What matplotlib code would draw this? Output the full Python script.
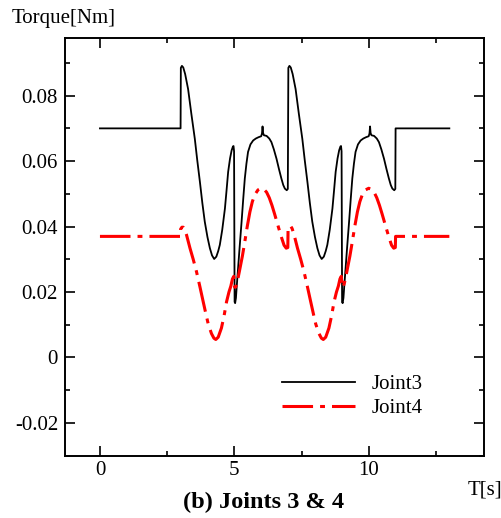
import matplotlib
matplotlib.use("Agg")
import matplotlib.pyplot as plt
from matplotlib.ticker import FixedLocator, FixedFormatter, MultipleLocator

plt.rcParams['font.family'] = ['Liberation Serif', 'DejaVu Serif']

# Joint3 torque (black solid)
t_joint3 = [
    0.00, 3.00,
    3.01, 3.05, 3.10, 3.17, 3.28, 3.40, 3.53, 3.62, 3.72, 3.81, 3.90, 4.00,
    4.09, 4.17, 4.25, 4.33, 4.40, 4.46, 4.55, 4.65, 4.71, 4.77, 4.84, 4.90,
    4.95, 4.97, 4.99, 5.01, 5.03, 5.06, 5.09, 5.14, 5.20, 5.27, 5.33, 5.39,
    5.45, 5.51, 5.60, 5.70, 5.80, 5.90, 6.00, 6.03, 6.05, 6.07, 6.10, 6.20,
    6.30, 6.38, 6.47, 6.57, 6.66, 6.75, 6.82, 6.88, 6.95, 6.99,
    7.01, 7.05, 7.10, 7.17, 7.28, 7.40, 7.53, 7.62, 7.72, 7.81, 7.90, 8.00,
    8.09, 8.17, 8.25, 8.33, 8.40, 8.46, 8.55, 8.65, 8.71, 8.77, 8.84, 8.90,
    8.95, 8.97, 8.99, 9.01, 9.03, 9.06, 9.09, 9.14, 9.20, 9.27, 9.33, 9.39,
    9.45, 9.51, 9.60, 9.70, 9.80, 9.90, 10.00, 10.03, 10.05, 10.07, 10.10, 10.20,
    10.30, 10.38, 10.47, 10.57, 10.66, 10.75, 10.82, 10.88, 10.95, 10.99,
    11.00, 13.00,
]
joint3 = [
    0.0700, 0.0700,
    0.0885, 0.0891, 0.0886, 0.0866, 0.0820, 0.0745, 0.0668, 0.0603, 0.0536, 0.0472, 0.0415, 0.0368,
    0.0334, 0.0312, 0.0301, 0.0308, 0.0325, 0.0344, 0.0390, 0.0455, 0.0510, 0.0567, 0.0608, 0.0633,
    0.0645, 0.0646, 0.0630, 0.0170, 0.0166, 0.0182, 0.0218, 0.0273, 0.0340, 0.0415, 0.0483, 0.0547,
    0.0592, 0.0628, 0.0651, 0.0663, 0.0669, 0.0673, 0.0676, 0.0685, 0.0706, 0.0686, 0.0679, 0.0677,
    0.0669, 0.0658, 0.0636, 0.0607, 0.0576, 0.0547, 0.0527, 0.0516, 0.0511, 0.0515,
    0.0885, 0.0891, 0.0886, 0.0866, 0.0820, 0.0745, 0.0668, 0.0603, 0.0536, 0.0472, 0.0415, 0.0368,
    0.0334, 0.0312, 0.0301, 0.0308, 0.0325, 0.0344, 0.0390, 0.0455, 0.0510, 0.0567, 0.0608, 0.0633,
    0.0645, 0.0646, 0.0630, 0.0170, 0.0166, 0.0182, 0.0218, 0.0273, 0.0340, 0.0415, 0.0483, 0.0547,
    0.0592, 0.0628, 0.0651, 0.0663, 0.0669, 0.0673, 0.0676, 0.0685, 0.0706, 0.0686, 0.0679, 0.0677,
    0.0669, 0.0658, 0.0636, 0.0607, 0.0576, 0.0547, 0.0527, 0.0516, 0.0511, 0.0515,
    0.0700, 0.0700,
]

# Joint4 torque (red dash-dot)
t_joint4 = [
    0.00, 3.00,
    3.00, 3.05, 3.10, 3.15, 3.22, 3.35, 3.47, 3.59, 3.72, 3.84, 3.94, 4.03,
    4.15, 4.24, 4.31, 4.40, 4.52, 4.62, 4.71, 4.80, 4.87, 4.93, 4.98, 5.01,
    5.05, 5.12, 5.20, 5.30, 5.39, 5.48, 5.58, 5.67, 5.76, 5.88, 6.00, 6.10,
    6.20, 6.30, 6.40, 6.50, 6.62, 6.75, 6.85, 6.93, 6.99,
    7.00, 7.05, 7.10, 7.15, 7.22, 7.35, 7.47, 7.59, 7.72, 7.84, 7.94, 8.03,
    8.15, 8.24, 8.31, 8.40, 8.52, 8.62, 8.71, 8.80, 8.87, 8.93, 8.98, 9.01,
    9.05, 9.12, 9.20, 9.30, 9.39, 9.48, 9.58, 9.67, 9.76, 9.88, 10.00, 10.10,
    10.20, 10.30, 10.40, 10.50, 10.62, 10.75, 10.85, 10.93, 10.99,
    11.00, 13.00,
]
joint4 = [
    0.0370, 0.0370,
    0.0392, 0.0398, 0.0398, 0.0392, 0.0375, 0.0334, 0.0300, 0.0263, 0.0216, 0.0171, 0.0134, 0.0102,
    0.0073, 0.0059, 0.0055, 0.0062, 0.0090, 0.0128, 0.0170, 0.0200, 0.0218, 0.0240, 0.0248, 0.0215,
    0.0215, 0.0235, 0.0268, 0.0310, 0.0354, 0.0400, 0.0445, 0.0476, 0.0497, 0.0512, 0.0517, 0.0514,
    0.0505, 0.0488, 0.0465, 0.0438, 0.0404, 0.0368, 0.0343, 0.0334, 0.0336,
    0.0395, 0.0401, 0.0401, 0.0394, 0.0376, 0.0334, 0.0300, 0.0263, 0.0216, 0.0171, 0.0134, 0.0102,
    0.0073, 0.0059, 0.0055, 0.0062, 0.0090, 0.0128, 0.0170, 0.0200, 0.0218, 0.0240, 0.0248, 0.0215,
    0.0215, 0.0235, 0.0268, 0.0310, 0.0354, 0.0400, 0.0445, 0.0476, 0.0497, 0.0512, 0.0517, 0.0514,
    0.0505, 0.0488, 0.0465, 0.0438, 0.0404, 0.0368, 0.0343, 0.0334, 0.0336,
    0.0370, 0.0370,
]

x_ticks = [0, 5, 10]
x_tick_labels = ['0', '5', '10']
y_ticks = [-0.02, 0.0, 0.02, 0.04, 0.06, 0.08]
y_tick_labels = ['-0.02', '0', '0.02', '0.04', '0.06', '0.08']

fig = plt.figure(figsize=(5.02, 5.18), dpi=100)
ax = fig.add_axes([0.1295, 0.1203, 0.8352, 0.8069])

ax.plot(t_joint3, joint3, color='black', lw=1.3, label='Joint3')
ax.plot(t_joint4, joint4, color='#ff0000', lw=2.2, dashes=(10, 2.3, 1.6, 2.3),
        label='Joint4')

ax.set_xlim(-1.3, 14.3)
ax.set_ylim(-0.03, 0.0977)

ax.xaxis.set_major_locator(FixedLocator(x_ticks))
ax.xaxis.set_major_formatter(FixedFormatter(x_tick_labels))
ax.xaxis.set_minor_locator(MultipleLocator(2.5))
ax.yaxis.set_major_locator(FixedLocator(y_ticks))
ax.yaxis.set_major_formatter(FixedFormatter(y_tick_labels))
ax.yaxis.set_minor_locator(MultipleLocator(0.01))

ax.tick_params(which='both', direction='in', top=True, right=True, width=1.2,
               labelsize=15)
ax.tick_params(which='major', length=7)
ax.tick_params(which='minor', length=3.6)
ax.tick_params(axis='x', pad=4)
ax.tick_params(axis='y', pad=5)
for s in ax.spines.values():
    s.set_linewidth(1.4)

ax.legend(loc='center left', bbox_to_anchor=(0.5175, 0.142), frameon=False,
          fontsize=15, handlelength=3.5, handletextpad=0.8, labelspacing=0.2,
          borderpad=0, borderaxespad=0)

fig.text(12 / 502, 1 - 23 / 518, 'Torque[Nm]', fontsize=15, ha='left', va='baseline')
fig.text(468 / 502, 1 - 495 / 518, 'T[s]', fontsize=15, ha='left', va='baseline')
fig.text(263.5 / 502, 1 - 508 / 518, '(b) Joints 3 & 4', fontsize=17.5,
         fontweight='bold', ha='center', va='baseline')

fig.savefig('out.png', dpi=100)
